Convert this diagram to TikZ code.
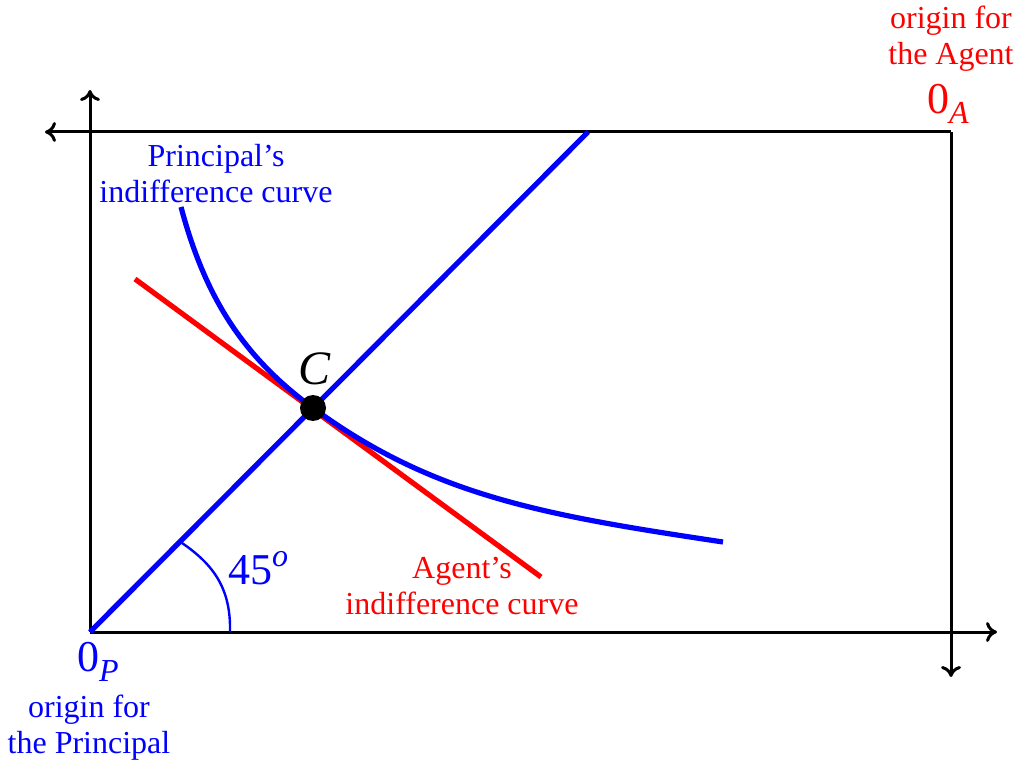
\documentclass[tikz,border=0pt]{standalone}
\usepackage{fontspec}
\setmainfont{Liberation Serif}
\usetikzlibrary{arrows.meta}
\begin{document}
\begin{tikzpicture}[x=0.5pt,y=0.5pt,
    axis/.style={line width=1.5pt,black,-{To[length=5.5pt,width=10pt]}},
    thickline/.style={line width=2.6pt},
    lab/.style={font=\fontsize{16}{18}\selectfont,align=center,inner sep=0pt},
    biglab/.style={font=\fontsize{22}{24}\selectfont,inner sep=0pt}]
    \useasboundingbox (0,0) rectangle (1018,767);
    % origins and ends of the axes
    \coordinate (OP) at (90,135);
    \coordinate (OA) at (951,635);
    \coordinate (C) at (313,359);
    \coordinate (up) at (90,677);
    \coordinate (right) at (997,135);
    \coordinate (left) at (45,635);
    \coordinate (down) at (951,90);
    \coordinate (diag) at (588,635);
    \coordinate (r1) at (135,488);
    \coordinate (r2) at (541,190);

    \draw[axis] (OP) -- (up);
    \draw[axis] (OP) -- (right);
    \draw[axis] (OA) -- (left);
    \draw[axis] (OA) -- (down);

    % angle mark
    \draw[blue,line width=1.2pt] (230,135) .. controls (231,178) and (214,202) .. (182,224);

    % agent's and principal's curves
    \draw[thickline,red] (r1) -- (r2);
    \draw[thickline,blue] (OP) -- (diag);
    \draw[thickline,blue] (181,560) .. controls (205,470) and (243,410) .. (C)
        .. controls (433,271) and (543,252) .. (723,225);
    \fill (C) circle (13);

    % labels
    \node[font=\fontsize{24}{26}\selectfont\itshape,inner sep=0pt] (clab) at (315,398) {C};
    \node[biglab,blue] (deg) at (258,199) {45\raisebox{0.42em}{\fontsize{16}{16}\selectfont\itshape o}};
    \node[lab,blue] (plab) at (216,593) {Principal’s\\indifference curve};
    \node[lab,red] (alab) at (462,181) {Agent’s\\indifference curve};
    \node[lab,red] (aorig) at (951,728) {origin for\\the Agent};
    \node[biglab,red] (a0) at (948,663) {0\raisebox{-0.22em}{\fontsize{16}{16}\selectfont\itshape A}};
    \node[biglab,blue] (p0) at (98,105) {0\raisebox{-0.22em}{\fontsize{16}{16}\selectfont\itshape P}};
    \node[lab,blue] (porig) at (89,39) {origin for\\the Principal};
\end{tikzpicture}
\end{document}
